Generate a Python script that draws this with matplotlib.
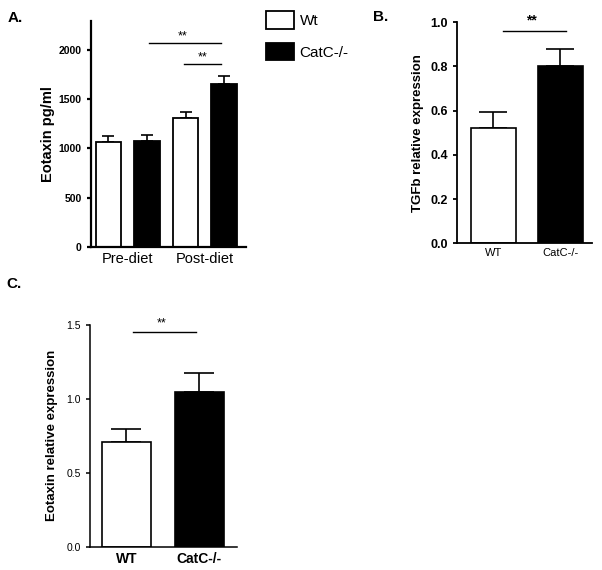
import matplotlib
matplotlib.use('Agg')
import matplotlib.pyplot as plt

plt.rcParams['font.family'] = ['Liberation Sans', 'DejaVu Sans']

# panel A - eotaxin ELISA
groups_a = ['Pre-diet', 'Post-diet']
wt_a = [1065, 1306]
wt_a_err = [61, 67]
catc_a = [1075, 1655]
catc_a_err = [58, 78]

# panel B - TGFb qPCR
labels_b = ['WT', 'CatC-/-']
tgfb = [0.52, 0.80]
tgfb_err = [0.073, 0.077]

# panel C - eotaxin qPCR
labels_c = ['WT', 'CatC-/-']
eot_rel = [0.705, 1.043]
eot_rel_err = [0.088, 0.128]

fig = plt.figure(figsize=(6.02, 5.70), dpi=100)

def style_ax(ax, lw):
    ax.spines['top'].set_visible(False)
    ax.spines['right'].set_visible(False)
    ax.spines['left'].set_linewidth(lw)
    ax.spines['bottom'].set_linewidth(lw)
    ax.tick_params(axis='y', direction='out', length=3, width=lw)
    ax.tick_params(axis='x', length=0)

#%% A
axA = fig.add_axes([0.1507, 0.5672, 0.2575, 0.3965])
xw = [0, 2]
xc = [1, 3]
bw = axA.bar(xw, wt_a, 0.67, color='white', edgecolor='black', linewidth=1.3, label='Wt', zorder=2)
bc = axA.bar(xc, catc_a, 0.67, color='black', edgecolor='black', linewidth=1.3, label='CatC-/-', zorder=2)
axA.errorbar(xw, wt_a, yerr=[[0, 0], wt_a_err], fmt='none', ecolor='black', elinewidth=1.2, capsize=4.5, capthick=1.2, zorder=1)
axA.errorbar(xc, catc_a, yerr=[[0, 0], catc_a_err], fmt='none', ecolor='black', elinewidth=1.2, capsize=4.5, capthick=1.2, zorder=1)
axA.set_xlim(-0.46, 3.56)
axA.set_ylim(0, 2300)
axA.set_yticks([0, 500, 1000, 1500, 2000])
axA.set_xticks([0.5, 2.5])
axA.set_xticklabels(groups_a, fontsize=10.5)
for t in axA.get_yticklabels():
    t.set_fontsize(7.5)
    t.set_fontweight('bold')
axA.set_ylabel('Eotaxin pg/ml', fontsize=10.5, fontweight='bold', labelpad=3)
style_ax(axA, 1.6)
# significance
axA.plot([xc[0] + 0.04, xc[1] - 0.07], [2069, 2069], color='black', lw=1)
axA.text((xc[0] + xc[1]) / 2 - 0.09, 2080, '**', ha='center', va='bottom', fontsize=9)
axA.plot([xw[1] - 0.03, xc[1] - 0.07], [1855, 1855], color='black', lw=1)
axA.text((xw[1] + xc[1]) / 2 - 0.07, 1865, '**', ha='center', va='bottom', fontsize=9)
fig.legend(handles=[bw, bc], loc='upper left', bbox_to_anchor=(266 / 602, 1 - 11 / 570),
           frameon=False, fontsize=11, handlelength=1.85, handleheight=1.42,
           labelspacing=0.9, handletextpad=0.35, borderpad=0, borderaxespad=0)

#%% B
axB = fig.add_axes([0.7586, 0.5732, 0.2248, 0.3882])
xb = [0, 1]
axB.bar(xb, tgfb, 0.665, color=['white', 'black'], edgecolor='black', linewidth=1.2, zorder=2)
axB.errorbar(xb, tgfb, yerr=[[0, 0], tgfb_err], fmt='none', ecolor='black', elinewidth=1.2, capsize=10, capthick=1.2, zorder=1)
axB.set_xlim(-0.545, 1.469)
axB.set_ylim(0, 1.0)
axB.set_yticks([0, 0.2, 0.4, 0.6, 0.8, 1.0])
axB.set_yticklabels(['%.1f' % v for v in [0, 0.2, 0.4, 0.6, 0.8, 1.0]], fontsize=9, fontweight='bold')
axB.set_xticks(xb)
axB.set_xticklabels(labels_b, fontsize=8)
axB.set_ylabel('TGFb relative expression', fontsize=9.5, fontweight='bold', labelpad=4)
style_ax(axB, 1.3)
axB.plot([0.14, 1.08], [0.96, 0.96], color='black', lw=1, clip_on=False)
axB.text(0.56, 0.975, '**', ha='center', va='bottom', fontsize=10, fontweight='bold')

#%% C
axC = fig.add_axes([0.1495, 0.0409, 0.2437, 0.3895])
axC.bar(xb, eot_rel, 0.675, color=['white', 'black'], edgecolor='black', linewidth=1.2, zorder=2)
axC.errorbar(xb, eot_rel, yerr=[[0, 0], eot_rel_err], fmt='none', ecolor='black', elinewidth=1.2, capsize=11, capthick=1.2, zorder=1)
axC.set_xlim(-0.497, 1.512)
axC.set_ylim(0, 1.5)
axC.set_yticks([0, 0.5, 1.0, 1.5])
axC.set_yticklabels(['%.1f' % v for v in [0, 0.5, 1.0, 1.5]], fontsize=7.5)
axC.set_xticks(xb)
axC.set_xticklabels(labels_c, fontsize=10, fontweight='bold')
axC.set_ylabel('Eotaxin relative expression', fontsize=9.5, fontweight='bold', labelpad=6)
style_ax(axC, 1.1)
axC.plot([0.09, 0.96], [1.449, 1.449], color='black', lw=1, clip_on=False)
axC.text(0.48, 1.465, '**', ha='center', va='bottom', fontsize=9)

# panel letters
fig.text(8 / 602, 1 - 18 / 570, 'A.', fontsize=11, fontweight='bold', va='center', ha='left')
fig.text(373 / 602, 1 - 17 / 570, 'B.', fontsize=11, fontweight='bold', va='center', ha='left')
fig.text(6 / 602, 1 - 284 / 570, 'C.', fontsize=11, fontweight='bold', va='center', ha='left')

fig.savefig('out.png', dpi=100)
